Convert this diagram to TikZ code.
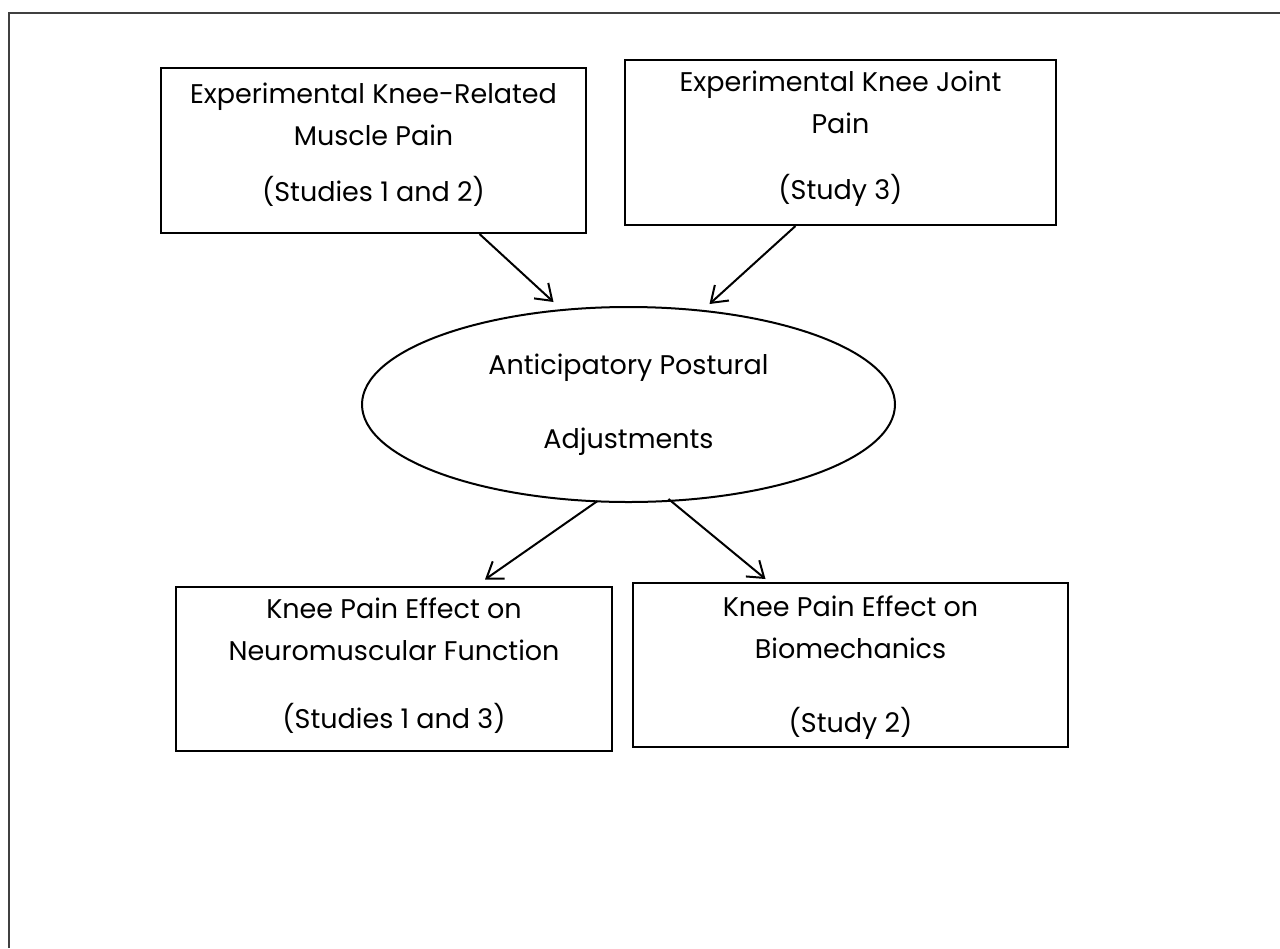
\documentclass[tikz,border=0pt]{standalone}
\usepackage{fontspec}
\setmainfont{Poppins}
\usetikzlibrary{arrows.meta,shapes.geometric}

\begin{document}
\begin{tikzpicture}[
            x=1pt,
            y=-1pt,
            every node/.style={
                draw,
                line width=2pt,
                align=center,
                font=\fontsize{27}{42}\selectfont,
                inner sep=0pt
            },
            factor/.style={
                rectangle,
                minimum width=425pt,
                minimum height=165pt
            },
            outcome/.style={
                rectangle,
                minimum width=436pt,
                minimum height=164pt
            },
            link/.style={
                line width=2pt,
                -{Straight Barb[length=15pt,width=21pt,line width=2pt]}
            }
        ]
            \useasboundingbox (0,0) rectangle (1280,948);
            \draw[line width=2pt, black!75] (9,948) -- (9,13) -- (1280,13);

            \node[factor, text depth=16pt] (muscle) at (373.5,150.5) {Experimental Knee-Related\\Muscle Pain\\[14pt](Studies 1 and 2)};
            \node[factor, minimum width=431pt, text depth=14pt] (joint) at (840.5,142.5) {Experimental Knee Joint\\Pain\\[24pt](Study 3)};
            \node[ellipse, minimum width=533pt, minimum height=195pt] (apa) at (628.5,404.5) {Anticipatory Postural\\[32pt]Adjustments};
            \node[outcome, text depth=10pt] (neuro) at (394,668.5) {Knee Pain Effect on\\Neuromuscular Function\\[26pt](Studies 1 and 3)};
            \node[outcome, minimum width=435pt, text depth=2pt] (biomech) at (850.5,665) {Knee Pain Effect on\\Biomechanics\\[32pt](Study 2)};

            \draw[link] ([xshift=106pt]muscle.south) -- ([xshift=-75pt,yshift=4pt]apa.north);
            \draw[link] ([xshift=-45pt]joint.south) -- ([xshift=81pt,yshift=2pt]apa.north);
            \draw[link] ([xshift=-31pt,yshift=2pt]apa.south) -- ([xshift=91pt,yshift=6pt]neuro.north);
            \draw[link] ([xshift=40pt,yshift=4pt]apa.south) -- ([xshift=-85pt,yshift=3pt]biomech.north);
        \end{tikzpicture}
\end{document}
